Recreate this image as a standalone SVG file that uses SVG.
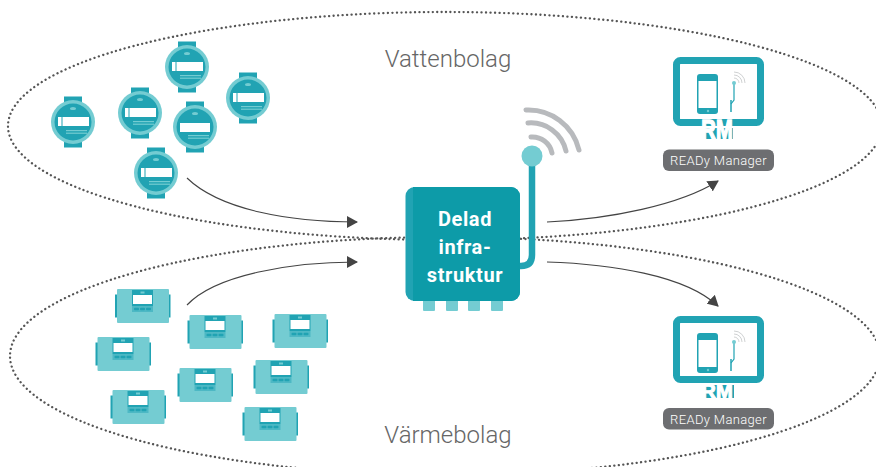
<svg xmlns="http://www.w3.org/2000/svg" width="876" height="467" viewBox="0 0 876 467">
<style>
.ring{fill:none;stroke:#555;stroke-width:2.3;stroke-dasharray:0.1 4.4;stroke-linecap:round}
.conn{fill:none;stroke:#444;stroke-width:1.1}
.lbl{font-family:"Roboto","Liberation Sans",sans-serif;font-weight:300;font-size:24px;fill:#666;text-anchor:middle}
.pill{fill:#6d6e71}
.pilltxt{font-family:"Roboto","Liberation Sans",sans-serif;font-weight:300;font-size:13px;letter-spacing:.35px;fill:#fff;text-anchor:middle}
.hub{font-family:"Roboto","Liberation Sans",sans-serif;font-weight:700;font-size:20px;fill:#fff;text-anchor:middle;letter-spacing:.6px}
.rm{font-family:"Liberation Sans",sans-serif;font-weight:700;font-size:28px;fill:#fff;stroke:#fff;stroke-width:1.500;text-anchor:middle}
.t{fill:#21a3b3}.l{fill:#74ccd2}
.arc{fill:none;stroke:#b8babd;stroke-width:5;stroke-linecap:round}
</style>
<defs>
<marker id="ah" markerWidth="11" markerHeight="12" refX="10" refY="6" orient="auto" markerUnits="userSpaceOnUse"><path d="M0 0L11 6L0 12Z" fill="#444"/></marker>
<g id="wmb"><rect class="t" x="-9" y="-25.500" width="18" height="51"/><circle class="l" r="22"/><circle class="t" r="18.500"/><ellipse cx="0" cy="-13.500" rx="3" ry="1.600" fill="#74ccd2"/><rect x="-7" y="8" width="21" height="1.200" fill="#74ccd2"/><rect x="-7" y="10.600" width="21" height="1.200" fill="#74ccd2"/></g>
<g id="wm"><use href="#wmb"/><rect x="-15" y="-5" width="3.500" height="9" fill="#fff"/><rect x="-10.500" y="-5" width="26.500" height="9" fill="#fff"/></g>
<g id="hm"><rect class="t" x="-27.500" y="-11.500" width="2.500" height="23"/><rect class="t" x="25.500" y="-11.500" width="2.500" height="23"/><rect class="l" x="-25.500" y="-17" width="52" height="34" rx="1"/><rect class="t" x="-10.500" y="-16" width="21" height="16"/><rect fill="#4db8c4" x="-10.500" y="0" width="21" height="6"/><rect x="-9.500" y="-11" width="19" height="9" fill="#fff"/><rect x="-2" y="-14.500" width="4" height="2" fill="#74ccd2"/><rect x="-8.500" y="1.800" width="5" height="2.400" rx="1" class="t"/><rect x="-2.500" y="1.800" width="5" height="2.400" rx="1" class="t"/><rect x="3.500" y="1.800" width="5" height="2.400" rx="1" class="t"/></g>
<g id="mon"><rect class="t" x="-21.500" y="-18" width="21" height="40" rx="3"/><rect x="-20" y="-11" width="18" height="27" fill="#fff"/><circle cx="-10.500" cy="19" r="1.200" fill="#74ccd2"/><path d="M15.500 -8V8L12.500 12" stroke="#21a3b3" stroke-width="1.200" fill="none"/><path d="M12.500 8V20" stroke="#21a3b3" stroke-width="1.500" fill="none"/><circle cx="15.500" cy="-9" r="2" fill="#74ccd2"/><path d="M15.500 -14A5 5 0 0 1 20.500 -9M15.500 -17A8 8 0 0 1 23.500 -9M15.500 -20A11 11 0 0 1 26.500 -9" fill="none" stroke="#c3c5c7" stroke-width=".8"/></g>
</defs>
<ellipse class="ring" cx="445" cy="126" rx="437" ry="114"/>
<ellipse class="ring" cx="445" cy="356" rx="435" ry="119"/>
<text class="lbl" x="448" y="67">Vattenbolag</text>
<text class="lbl" x="448" y="443">Värmebolag</text>
<g id="connectors">
<path class="conn" marker-end="url(#ah)" d="M187 178C220 210 290 222 357 222"/>
<path class="conn" marker-end="url(#ah)" d="M187 305C215 275 290 262 357 262"/>
<path class="conn" marker-end="url(#ah)" d="M547 222C610 219 680 205 718 181"/>
<path class="conn" marker-end="url(#ah)" d="M547 262C610 264 685 275 718 306"/>
</g>
<g id="meters-water">
<use id="m1" href="#wm" x="187" y="67"/><use id="m2" href="#wm" x="248" y="98"/><use id="m3" href="#wm" x="140" y="113"/>
<g id="m4"><use href="#wmb" x="195" y="127"/><rect x="180" y="123" width="30" height="9" fill="#fff"/></g>
<use id="m5" href="#wm" x="73" y="122"/><use id="m6" href="#wm" x="156" y="173"/>
</g>
<g id="meters-heat">
<use id="h1" href="#hm" x="142.500" y="306"/><use id="h2" href="#hm" x="123" y="354"/><use id="h3" href="#hm" x="215" y="332"/><use id="h4" href="#hm" x="300" y="331"/><use id="h5" href="#hm" x="205" y="385"/><use id="h6" href="#hm" x="281" y="377"/><use id="h7" href="#hm" x="138" y="407"/><use id="h8" href="#hm" x="270" y="424"/>
</g>
<g id="hub">
<rect class="l" x="423" y="298" width="12" height="13" rx="1"/><rect class="l" x="446" y="298" width="12" height="13" rx="1"/><rect class="l" x="468" y="298" width="12" height="13" rx="1"/><rect class="l" x="491" y="298" width="12" height="13" rx="1"/>
<path d="M518 266H521Q532 266 532 255V160" fill="none" stroke="#21a3b3" stroke-width="6.500"/>
<circle class="l" cx="532" cy="156" r="10.500"/>
<path class="arc" d="M531 137A20 20 0 0 1 552 153"/><path class="arc" d="M528 123A36 36 0 0 1 566 151"/><path class="arc" d="M526 110A52 52 0 0 1 579 150"/>
<rect x="405.500" y="187" width="114.500" height="114" rx="9" fill="#21a3b3"/>
<path d="M413 187H511a9 9 0 0 1 9 9V292a9 9 0 0 1-9 9H413Z" fill="#0d9ba8"/>
<text class="hub" x="465" y="226">Delad</text><text class="hub" x="465" y="254">infra-</text><text class="hub" x="465" y="282">struktur</text>
</g>
<g id="manager-top">
<rect x="676.500" y="60.500" width="84" height="62" rx="4" fill="#fff" stroke="#21a3b3" stroke-width="7"/>
<use href="#mon" x="718.500" y="92"/>
<rect class="t" x="705" y="128" width="28" height="11"/>
<rect x="700" y="126" width="36" height="2" fill="#fff"/>
<text class="rm" transform="translate(717,139) scale(.72,1)">RM</text>
<rect class="pill" x="663" y="149.500" width="111" height="21.500" rx="6"/>
<text class="pilltxt" x="718.500" y="165">READy Manager</text>
</g>
<g id="manager-bottom">
<rect x="676.500" y="319.500" width="84" height="60" rx="4" fill="#fff" stroke="#21a3b3" stroke-width="7"/>
<use href="#mon" x="718.500" y="351"/>
<rect class="t" x="704" y="385" width="30" height="13"/>
<text class="rm" transform="translate(717,398) scale(.72,.75)">RM</text>
<rect class="pill" x="663" y="408" width="111" height="21.500" rx="6"/>
<text class="pilltxt" x="718.500" y="424">READy Manager</text>
</g>
</svg>
